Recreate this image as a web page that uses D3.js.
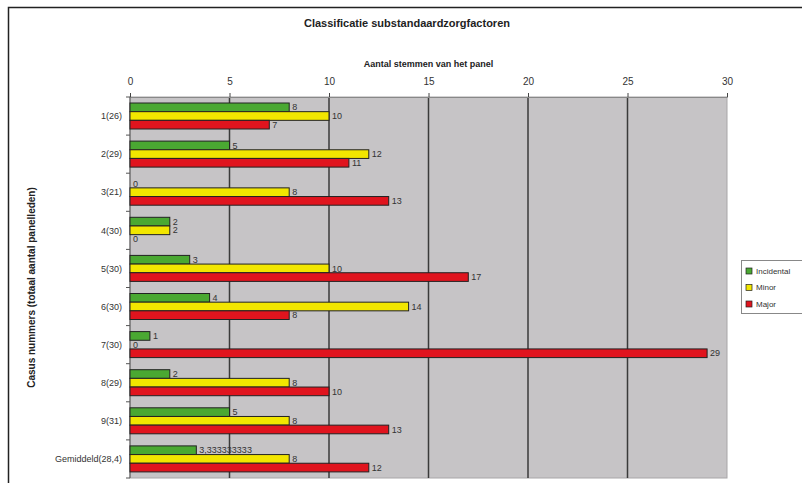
<!DOCTYPE html>
<html>
<head>
<meta charset="utf-8">
<script src="https://cdn.jsdelivr.net/npm/d3@7"></script>
<style>
  body { margin: 0; background: #fff; }
  svg { display: block; font-family: 'Liberation Sans', Arial, sans-serif; }
</style>
</head>
<body>
<div id="chart"></div>
<script>
// data
const categories = ['1(26)', '2(29)', '3(21)', '4(30)', '5(30)', '6(30)', '7(30)', '8(29)', '9(31)', 'Gemiddeld(28,4)']
const series = ['Incidental', 'Minor', 'Major']
const incidental = [8, 5, 0, 2, 3, 4, 1, 2, 5, 3.333333333]
const minor = [10, 12, 8, 2, 10, 14, 0, 8, 8, 8]
const major = [7, 11, 13, 0, 17, 8, 29, 10, 13, 12]
const xTicks = [0, 5, 10, 15, 20, 25, 30]
const colors = ['#4aa832', '#f2e600', '#e0141e']

const width = 802
const height = 483
const plot = { left: 130, right: 727, top: 97, bottom: 478 }

const values = [incidental, minor, major]
const rows = categories.map((c, i) => ({
  cat: c,
  vals: series.map((s, j) => ({ key: s, value: values[j][i], color: colors[j] }))
}))

const svg = d3.select('#chart').append('svg')
  .attr('width', width)
  .attr('height', height)

// outer frame (cut at right and bottom)
svg.append('path')
  .attr('d', `M8.5,${height} V7.5 H${width}`)
  .attr('fill', 'none')
  .attr('stroke', '#222')
  .attr('stroke-width', 1.5)

const x = d3.scaleLinear().domain([0, 30]).range([plot.left, plot.right])
const y = d3.scaleBand().domain(categories).range([plot.top, plot.bottom])
const ySub = d3.scaleBand().domain(series).range([6, 32])

// plot background
svg.append('rect')
  .attr('x', plot.left)
  .attr('y', plot.top)
  .attr('width', plot.right - plot.left)
  .attr('height', plot.bottom - plot.top)
  .attr('fill', '#c6c4c6')
  .attr('stroke', '#a8a6a8')

// gridlines
svg.append('g')
  .selectAll('line')
  .data(xTicks.filter(t => t > 0 && t < 30))
  .join('line')
  .attr('x1', d => x(d)).attr('x2', d => x(d))
  .attr('y1', plot.top).attr('y2', plot.bottom)
  .attr('stroke', '#3a3a3a')
  .attr('stroke-width', 1.5)

// top axis
const xAxis = svg.append('g')
  .attr('transform', `translate(0,${plot.top})`)
  .call(d3.axisTop(x).tickValues(xTicks).tickSize(4).tickPadding(8))
xAxis.select('.domain').attr('stroke', '#888')
xAxis.selectAll('.tick line').attr('stroke', '#444')
xAxis.selectAll('text')
  .attr('font-size', 10)
  .attr('fill', '#333')

// left axis line and ticks at band boundaries
svg.append('line')
  .attr('x1', plot.left).attr('x2', plot.left)
  .attr('y1', plot.top).attr('y2', plot.bottom)
  .attr('stroke', '#555')
svg.append('g')
  .selectAll('line')
  .data(categories.map(c => y(c)).concat([plot.bottom]))
  .join('line')
  .attr('x1', plot.left - 4).attr('x2', plot.left)
  .attr('y1', d => d).attr('y2', d => d)
  .attr('stroke', '#555')

// category labels
svg.append('g')
  .selectAll('text')
  .data(categories)
  .join('text')
  .attr('x', plot.left - 8)
  .attr('y', d => y(d) + y.bandwidth() / 2)
  .attr('dy', '0.35em')
  .attr('text-anchor', 'end')
  .attr('font-size', 9)
  .attr('fill', '#333')
  .text(d => d)

// bars
const groups = svg.append('g')
  .selectAll('g')
  .data(rows)
  .join('g')
  .attr('transform', d => `translate(0,${y(d.cat)})`)

groups.selectAll('rect')
  .data(d => d.vals)
  .join('rect')
  .attr('x', x(0))
  .attr('y', d => ySub(d.key))
  .attr('width', d => x(d.value) - x(0))
  .attr('height', ySub.bandwidth())
  .attr('fill', d => d.color)
  .attr('stroke', '#222')
  .attr('stroke-width', d => d.value > 0 ? 1 : 0)

groups.selectAll('text')
  .data(d => d.vals)
  .join('text')
  .attr('x', d => x(d.value) + 3)
  .attr('y', d => ySub(d.key) + ySub.bandwidth() / 2)
  .attr('dy', '0.35em')
  .attr('font-size', 9)
  .attr('fill', '#333')
  .text(d => String(d.value).replace('.', ','))

// titles
svg.append('text')
  .attr('x', 407)
  .attr('y', 27)
  .attr('text-anchor', 'middle')
  .attr('font-size', 11)
  .attr('font-weight', 'bold')
  .attr('fill', '#222')
  .text('Classificatie substandaardzorgfactoren')

svg.append('text')
  .attr('x', (plot.left + plot.right) / 2)
  .attr('y', 67)
  .attr('text-anchor', 'middle')
  .attr('font-size', 9)
  .attr('font-weight', 'bold')
  .attr('fill', '#222')
  .text('Aantal stemmen van het panel')

svg.append('text')
  .attr('transform', `translate(35,${(plot.top + plot.bottom) / 2}) rotate(-90)`)
  .attr('text-anchor', 'middle')
  .attr('font-size', 10)
  .attr('font-weight', 'bold')
  .attr('fill', '#222')
  .text('Casus nummers (totaal aantal panelleden)')

// legend
const legend = svg.append('g').attr('transform', 'translate(741,260)')
legend.append('rect')
  .attr('x', 0.5).attr('y', 0.5)
  .attr('width', 70).attr('height', 53)
  .attr('fill', '#fff')
  .attr('stroke', '#888')
const items = legend.selectAll('g')
  .data(series)
  .join('g')
  .attr('transform', (d, i) => `translate(5,${11 + i * 16.5})`)
items.append('rect')
  .attr('x', 0).attr('y', -3)
  .attr('width', 6).attr('height', 6)
  .attr('fill', (d, i) => colors[i])
  .attr('stroke', '#222')
  .attr('stroke-width', 0.7)
items.append('text')
  .attr('x', 10)
  .attr('dy', '0.35em')
  .attr('font-size', 8)
  .attr('fill', '#333')
  .text(d => d)
</script>
</body>
</html>
